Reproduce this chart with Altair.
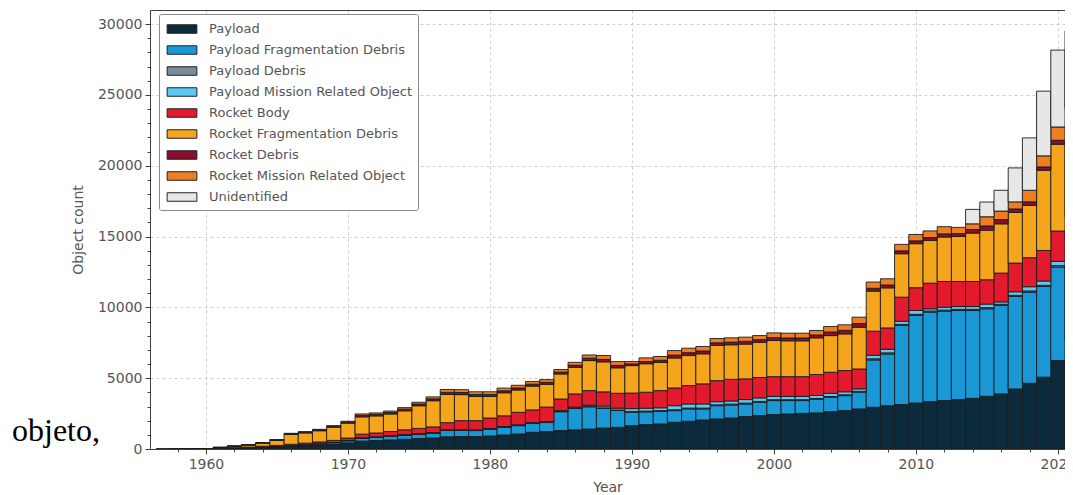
import altair as alt
import pandas as pd

years = list(range(1957, 2022))

series_names = [
    "Payload",
    "Payload Fragmentation Debris",
    "Payload Debris",
    "Payload Mission Related Object",
    "Rocket Body",
    "Rocket Fragmentation Debris",
    "Rocket Debris",
    "Rocket Mission Related Object",
    "Unidentified",
]
series_colors = ["#0b2b3d", "#1a98d5", "#7a8b9c", "#5cc8f3", "#e3192d",
                 "#f5a51c", "#8a0f2e", "#ef7d22", "#e6e7e6"]

payload = [1, 3, 6, 15,
           35, 60, 85, 115, 150, 190, 240, 290, 350, 430,
           560, 600, 640, 690, 740, 780, 860, 880, 880, 920,
           990, 1060, 1180, 1230, 1300, 1350, 1410, 1480, 1530, 1650,
           1720, 1770, 1890, 1960, 2050, 2120, 2190, 2290, 2360, 2430,
           2475, 2520, 2550, 2640, 2710, 2830, 2950, 3060, 3140, 3250,
           3350, 3420, 3490, 3580, 3720, 3890, 4240, 4640, 5070, 6250, 7660]
payload_frag = [0, 0, 0, 0,
                0, 0, 5, 15, 25, 40, 55, 75, 100, 150,
                210, 230, 260, 290, 300, 330, 450, 430, 420, 470,
                540, 590, 620, 640, 1330, 1520, 1570, 1400, 1200, 940,
                900, 880, 820, 870, 780, 940, 920, 890, 940, 990,
                945, 900, 960, 1010, 1060, 1180, 3340, 3650, 5580, 6180,
                6310, 6310, 6290, 6200, 6180, 6250, 6530, 6440, 6410, 6600, 6840]
payload_debris = [0, 0, 0, 0,
                  0, 0, 0, 0, 0, 0, 0, 0, 0, 10,
                  10, 10, 12, 12, 15, 15, 15, 15, 15, 15,
                  15, 15, 15, 20, 20, 25, 25, 25, 25, 60,
                  60, 60, 60, 60, 60, 60, 60, 60, 60, 60,
                  60, 60, 60, 60, 60, 60, 80, 80, 80, 80,
                  80, 80, 80, 80, 80, 80, 80, 80, 80, 100, 100]
payload_mission = [0, 0, 0, 0,
                   0, 0, 0, 3, 5, 8, 10, 10, 12, 15,
                   20, 20, 22, 25, 30, 35, 35, 35, 35, 35,
                   40, 45, 45, 50, 60, 60, 90, 130, 130, 200,
                   200, 200, 290, 290, 290, 220, 220, 250, 250, 230,
                   230, 230, 210, 220, 210, 180, 250, 250, 220, 270,
                   160, 200, 200, 200, 250, 170, 250, 300, 300, 300, 300]
rocket_body = [1, 2, 3, 8,
               20, 35, 45, 60, 75, 95, 110, 125, 145, 170,
               250, 270, 300, 340, 370, 400, 500, 640, 650, 750,
               760, 880, 900, 1020, 820, 935, 1030, 1000, 1050, 1100,
               1130, 1215, 1250, 1300, 1420, 1490, 1530, 1460, 1440, 1400,
               1400, 1400, 1480, 1490, 1500, 1400, 1700, 1510, 1700, 1610,
               1810, 1820, 1770, 1770, 1720, 2030, 2030, 2050, 2160, 2140, 1480]
rocket_frag = [0, 0, 0, 4,
               55, 100, 150, 225, 360, 700, 720, 790, 930, 1050,
               1220, 1210, 1240, 1340, 1600, 1850, 1990, 1840, 1710, 1520,
               1625, 1580, 1680, 1610, 1770, 1880, 2120, 2120, 1800, 1940,
               2010, 1990, 2120, 2120, 2120, 2480, 2440, 2460, 2480, 2550,
               2530, 2530, 2590, 2590, 2590, 2950, 2830, 2830, 3070, 3110,
               3020, 3140, 3180, 3420, 3500, 3480, 3570, 3690, 5660, 6130, 6480]
rocket_debris = [0, 0, 0, 1,
                 5, 10, 12, 18, 25, 40, 50, 55, 60, 70,
                 110, 110, 110, 115, 120, 130, 150, 150, 140, 140,
                 140, 140, 140, 140, 130, 150, 170, 170, 170, 120,
                 150, 150, 200, 200, 200, 190, 190, 190, 190, 200,
                 200, 200, 200, 250, 250, 260, 200, 200, 200, 200,
                 200, 220, 200, 250, 300, 300, 250, 250, 240, 280, 240]
rocket_mission = [0, 1, 1, 2,
                  3, 7, 9, 12, 20, 35, 40, 45, 53, 61,
                  95, 96, 96, 108, 125, 140, 200, 200, 190, 190,
                  190, 190, 190, 190, 180, 200, 225, 275, 265, 165,
                  265, 265, 320, 320, 320, 300, 300, 300, 290, 340,
                  340, 340, 320, 390, 390, 450, 440, 440, 460, 450,
                  470, 510, 440, 400, 650, 600, 500, 820, 780, 940, 940]
unidentified = [0] * 57 + [1020, 1040, 1470, 2400, 3700, 4570, 5430, 5490]

all_series = [payload, payload_frag, payload_debris, payload_mission,
              rocket_body, rocket_frag, rocket_debris, rocket_mission,
              unidentified]

rows = []
for i, yr in enumerate(years):
    base = 0
    for k, (name, vals) in enumerate(zip(series_names, all_series)):
        v = vals[i]
        if v > 0:
            rows.append({"year": yr, "x0": yr - 0.5, "x1": yr + 0.5,
                         "y0": base, "y1": base + v, "type": name, "order": k})
        base += v
df = pd.DataFrame(rows)

FONT = "DejaVu Sans"
TXT = "#555555"
SPINE = "#404040"

x_scale = alt.Scale(domain=[1956.06, 2020.5], nice=False, zero=False)
y_scale = alt.Scale(domain=[0, 31000], nice=False)

x_axis = alt.Axis(
    values=list(range(1956, 2021, 2)),
    labelExpr="datum.value % 10 === 0 ? datum.label : ''",
    format="d",
    tickSize={"condition": {"test": "datum.value % 10 === 0", "value": 5}, "value": 3},
    gridOpacity={"condition": {"test": "datum.value % 10 === 0", "value": 1}, "value": 0},
    grid=True, gridDash=[3, 3], gridColor="#c4c4c4", gridWidth=0.8,
    domain=True, domainColor=SPINE, domainWidth=1,
    tickColor=SPINE, tickWidth=1,
    labelFont=FONT, labelFontSize=14, labelColor=TXT, labelPadding=3,
    labelFlush=False, labelOverlap=False,
    title="Year", titleFont=FONT, titleFontSize=14, titleFontWeight="normal",
    titleColor=TXT, titlePadding=9,
)
y_axis = alt.Axis(
    values=list(range(0, 30001, 1000)),
    labelExpr="datum.value % 5000 === 0 ? datum.label : ''",
    format="d",
    tickSize={"condition": {"test": "datum.value % 5000 === 0", "value": 5}, "value": 3},
    gridOpacity={"condition": {"test": "datum.value % 5000 === 0", "value": 1}, "value": 0},
    grid=True, gridDash=[3, 3], gridColor="#c4c4c4", gridWidth=0.8,
    domain=True, domainColor=SPINE, domainWidth=1,
    tickColor=SPINE, tickWidth=1,
    labelFont=FONT, labelFontSize=14, labelColor=TXT, labelPadding=3,
    labelFlush=False, labelOverlap=False,
    title="Object count", titleFont=FONT, titleFontSize=14, titleFontWeight="normal",
    titleColor=TXT, titlePadding=12,
)

legend = alt.Legend(
    orient="none", legendX=9, legendY=4, title=None,
    symbolType="M-1.75,-0.5H1.75V0.5H-1.75Z", symbolSize=289,
    symbolStrokeColor="#222222", symbolStrokeWidth=1, symbolOpacity=1,
    symbolOffset=8, labelOffset=18,
    labelFont=FONT, labelFontSize=13, labelColor=TXT, labelLimit=400,
    rowPadding=5, padding=6,
    strokeColor="#8a8a8a", fillColor="white", cornerRadius=2,
)

bars = alt.Chart(df).mark_bar(stroke="#1b1b1b", strokeWidth=0.9, clip=True).encode(
    x=alt.X("x0:Q", scale=x_scale, axis=x_axis),
    x2="x1:Q",
    y=alt.Y("y0:Q", scale=y_scale, axis=y_axis),
    y2="y1:Q",
    color=alt.Color("type:N", scale=alt.Scale(domain=series_names, range=series_colors),
                    sort=series_names, legend=legend),
    order="order:Q",
)

top_spine = alt.Chart(pd.DataFrame({"v": [1960]})).mark_point(opacity=0).encode(
    x=alt.X("v:Q", scale=x_scale,
            axis=alt.Axis(orient="top", ticks=False, labels=False, grid=False,
                          domain=True, domainColor=SPINE, domainWidth=1, title=None)),
)

side_text = alt.Chart(pd.DataFrame({"t": ["objeto,"]})).mark_text(
    align="left", baseline="alphabetic", font="Liberation Serif", fontSize=32, color="black"
).encode(x=alt.value(-138), y=alt.value(431), text="t:N")

chart = alt.layer(bars, top_spine, side_text).resolve_axis(x="independent").properties(
    width=915, height=439,
    padding={"left": 142, "top": 2, "right": 0, "bottom": 45},
    autosize=alt.AutoSizeParams(type="none"),
    background="white",
).configure_view(stroke=None)

chart.save("out.html", embed_options={"renderer": "svg", "actions": False})
